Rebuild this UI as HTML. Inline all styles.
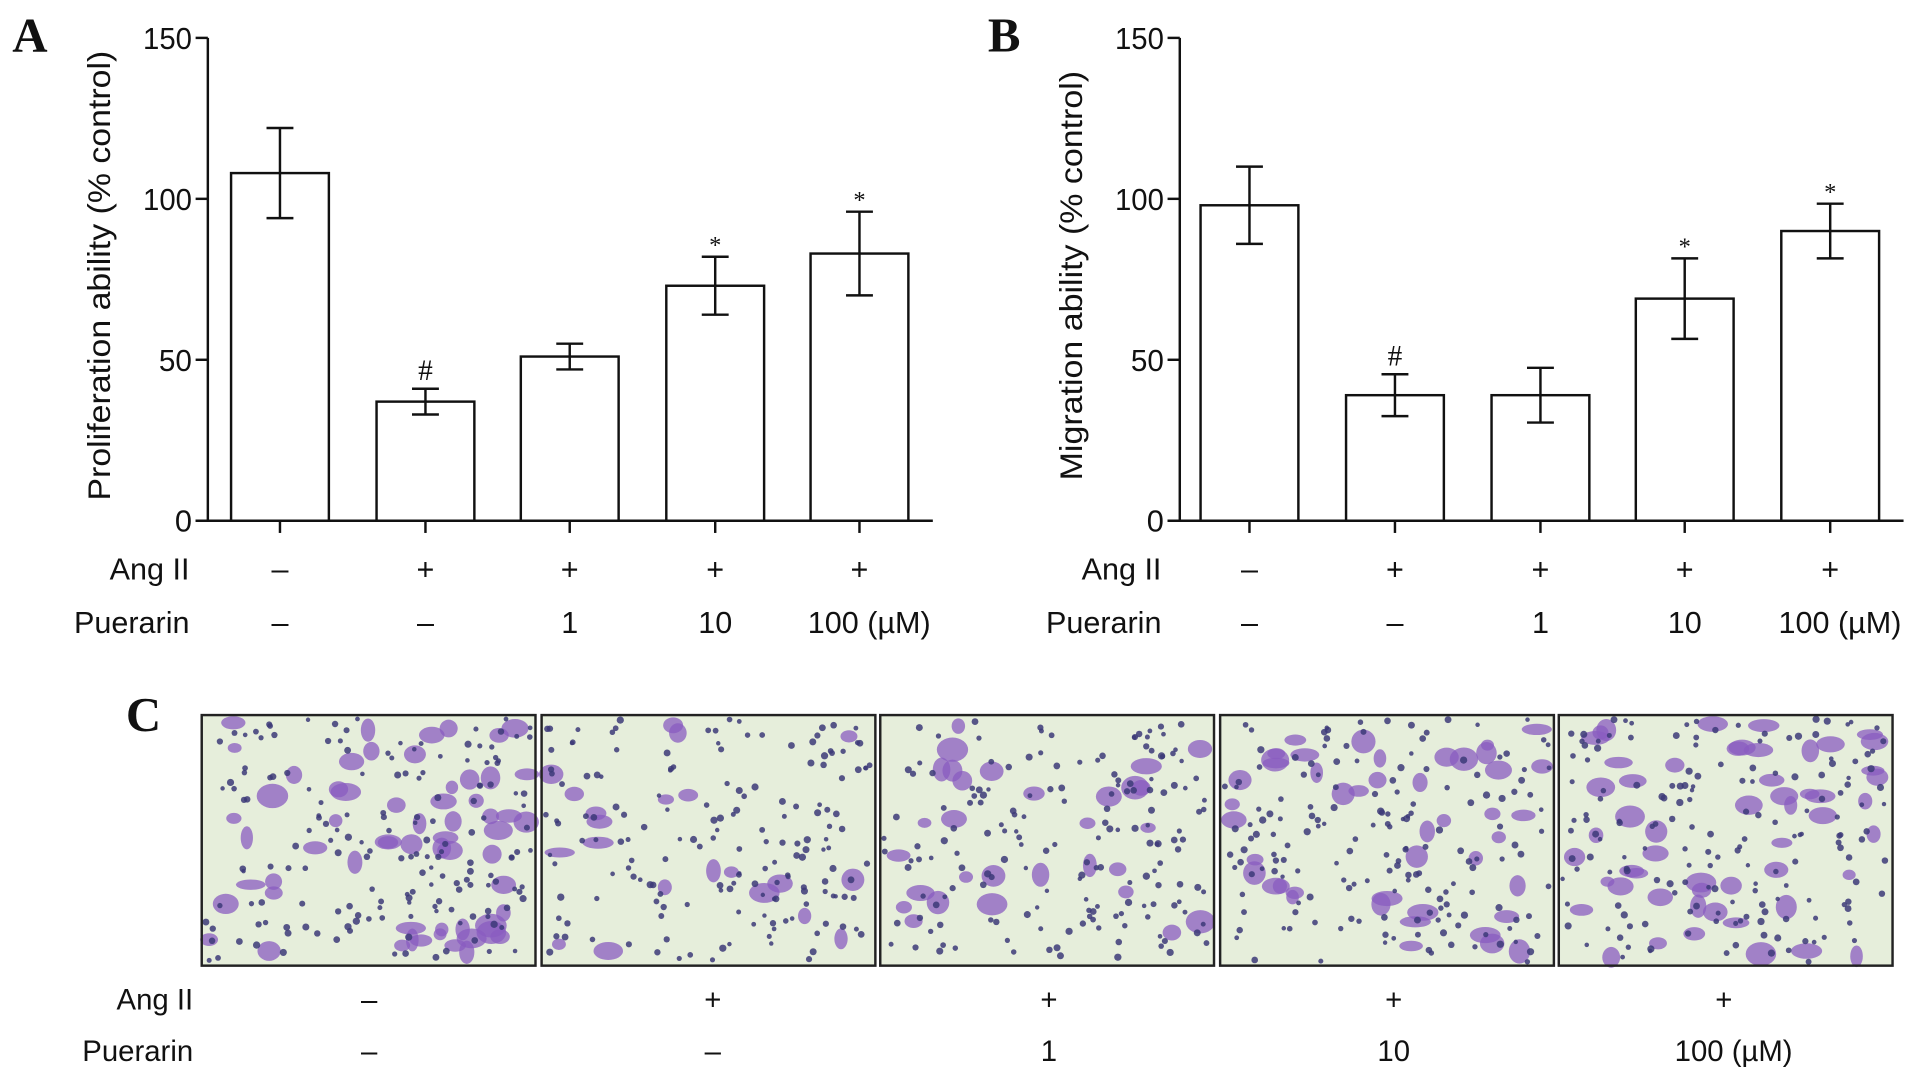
<!DOCTYPE html>
<html><head><meta charset="utf-8"><style>
html,body{margin:0;padding:0;background:#fff;}
svg{display:block;}
text{font-family:"Liberation Sans",sans-serif;fill:#111;}
text.serif{font-family:"Liberation Serif",serif;}
</style></head><body>
<svg id="fig" width="1917" height="1083" viewBox="0 0 1568 886" preserveAspectRatio="none" xmlns="http://www.w3.org/2000/svg">
<g id="panelA"></g>
<g id="panelB"></g>
<g id="panelC"></g>
</svg>
<script>
// ---- data ----
const angII = ["–","+","+","+","+"];
const puerarin = ["–","–","1","10","100 (µM)"];
const profMean = [108, 37, 51, 73, 83];
const profErr = [14, 4, 4, 9, 13];
const profMark = ["", "#", "", "*", "*"];
const migMean = [98, 39, 39, 69, 90];
const migErr = [12, 6.5, 8.5, 12.5, 8.5];
const migMark = ["", "#", "", "*", "*"];
const yTicks = [0, 50, 100, 150];

const NS = "http://www.w3.org/2000/svg";
function mk(parent, tag, attrs, txt){
  const e = document.createElementNS(NS, tag);
  for (const k in attrs) e.setAttribute(k, attrs[k]);
  if (txt !== undefined) e.textContent = txt;
  parent.appendChild(e);
  return e;
}

function drawChart(g, ax, axEnd, centers, means, errs, marks, title, letter, letterX, titleLen){
  const y0 = 426, yTop = 31, ymax = 150;
  const ys = v => y0 - (v / ymax) * (y0 - yTop);
  const bw = 80;
  const L = mk(g, "text", {x: letterX, y: 42, class: "serif", "font-weight": "bold", "font-size": 40}, letter);
  
  
  const yaxis = mk(g, "line", {x1: ax, y1: yTop, x2: ax, y2: y0, stroke: "#111", "stroke-width": 2});
  
  
  const xaxis = mk(g, "line", {x1: ax - 10, y1: y0, x2: axEnd, y2: y0, stroke: "#111", "stroke-width": 2});
  
  
  yTicks.forEach(t => {
    const tk = mk(g, "line", {x1: ax - 10, y1: ys(t), x2: ax, y2: ys(t), stroke: "#111", "stroke-width": 2});
    
    
    const tl = mk(g, "text", {x: ax - 13, y: ys(t) + 9, "text-anchor": "end", "font-size": 25, textLength: t >= 100 ? 40 : (t ? 27 : 14), lengthAdjust: "spacingAndGlyphs"}, String(t));
    
    
  });
  const yt = mk(g, "text", {x: 0, y: 0, "text-anchor": "middle", "font-size": 26, textLength: titleLen, lengthAdjust: "spacingAndGlyphs", transform: `translate(${ax - 80},${(yTop + y0) / 2 - 3}) rotate(-90)`}, title);
  
  
  means.forEach((m, i) => {
    const cx = centers[i];
    const b = mk(g, "rect", {x: cx - bw / 2, y: ys(m), width: bw, height: y0 - ys(m), fill: "#fff", stroke: "#111", "stroke-width": 2});
    
    
    const hi = ys(m + errs[i]), lo = ys(m - errs[i]);
    const e = mk(g, "path", {d: `M${cx},${hi}V${lo}M${cx - 11},${hi}H${cx + 11}M${cx - 11},${lo}H${cx + 11}`, stroke: "#111", "stroke-width": 2, fill: "none"});
    
    
    if (marks[i]) {
      const s = mk(g, "text", {x: cx, y: hi - (marks[i] === "#" ? 7 : 3), "text-anchor": "middle", "font-size": marks[i] === "#" ? 24 : 20, class: "serif"}, marks[i]);
      
      
    }
    const xt = mk(g, "line", {x1: cx, y1: y0, x2: cx, y2: y0 + 10, stroke: "#111", "stroke-width": 2});
    
    
  });
  drawRows(g, ax - 15, centers, 474, 518, 25);
}

function drawRows(g, labelX, centers, yA, yP, fs){
  const a = mk(g, "text", {x: labelX, y: yA, "text-anchor": "end", "font-size": fs}, "Ang II");
  
  
  const p = mk(g, "text", {x: labelX, y: yP, "text-anchor": "end", "font-size": fs}, "Puerarin");
  
  
  centers.forEach((cx, i) => {
    const t1 = mk(g, "text", {x: cx, y: yA, "text-anchor": "middle", "font-size": fs}, angII[i]);
    
    
    const t2 = mk(g, "text", {x: cx + (i === 4 ? 8 : 0), y: yP, "text-anchor": "middle", "font-size": fs}, puerarin[i]);
    
    
  });
}

drawChart(document.getElementById("panelA"), 170, 763, [229, 348, 466, 585, 703], profMean, profErr, profMark, "Proliferation ability (% control)", "A", 10, 368);
drawChart(document.getElementById("panelB"), 965, 1557, [1022, 1141, 1260, 1378, 1497], migMean, migErr, migMark, "Migration ability (% control)", "B", 808, 335);

// ---- panel C micrographs (decorative texture) ----
const gC = document.getElementById("panelC");
const Ct = mk(gC, "text", {x: 103, y: 598, class: "serif", "font-weight": "bold", "font-size": 40}, "C");


const imgX = [165, 443, 720, 998, 1275];
const density = [1.0, 0.35, 0.5, 0.75, 0.9];
let seed = 7;
function rnd(){ seed = (seed * 16807) % 2147483647; return seed / 2147483647; }
imgX.forEach((x, k) => {
  const w = 273, y = 585, h = 205;
  const im = mk(gC, "g", {});
  
  
  mk(im, "rect", {x, y, width: w, height: h, fill: "#e6eedb"});
  const nBig = Math.round(60 * density[k]);
  for (let i = 0; i < nBig; i++) {
    mk(im, "ellipse", {cx: x + 6 + rnd() * (w - 12), cy: y + 6 + rnd() * (h - 12), rx: 5 + rnd() * 8, ry: 4 + rnd() * 6, fill: "#8a5cc0", opacity: 0.75});
  }
  for (let i = 0; i < 170; i++) {
    mk(im, "circle", {cx: x + 3 + rnd() * (w - 6), cy: y + 3 + rnd() * (h - 6), r: 1.8 + rnd() * 1.2, fill: "#3c3a78", opacity: 0.85});
  }
  mk(im, "rect", {x, y, width: w, height: h, fill: "none", stroke: "#222", "stroke-width": 2});
});
drawRows(gC, 158, [302, 583, 858, 1140, 1410], 826, 868, 24);
</script>
</body></html>
